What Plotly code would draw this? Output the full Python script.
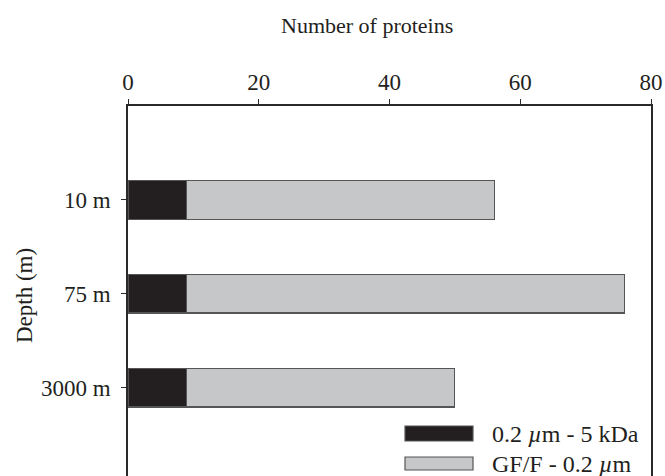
import plotly.graph_objects as go

depths = ["10 m", "75 m", "3000 m"]
small_fraction = [9, 9, 9]          # 0.2 µm - 5 kDa
large_fraction = [47, 67, 41]       # GF/F - 0.2 µm (stacked on top)
series_names = ["0.2 <i>µ</i>m - 5 kDa", "GF/F - 0.2 <i>µ</i>m"]
x_ticks = [0, 20, 40, 60, 80]
x_title = "Number of proteins"
y_title = "Depth (m)"

FONT = "Liberation Serif"
BLACK = "#231f20"
GRAY = "#c6c7c8"
EDGE = "#555555"
AXIS = "#2a2a2a"

W, H = 665, 476
L, T, R_EDGE, B_EDGE = 128, 106, 651, 476
PW, PH = R_EDGE - L, B_EDGE - T


def px(xs):   # reference screen x -> paper x
    return (xs - L) / PW


def py(ys):   # reference screen y -> paper y
    return (B_EDGE - ys) / PH


fig = go.Figure()
fig.add_trace(go.Bar(y=depths, x=small_fraction, orientation="h", name=series_names[0],
                     marker=dict(color=BLACK, line=dict(color=EDGE, width=1.2)), width=0.41))
fig.add_trace(go.Bar(y=depths, x=large_fraction, orientation="h", name=series_names[1],
                     marker=dict(color=GRAY, line=dict(color=EDGE, width=1.2)), width=0.41))

fig.update_layout(
    barmode="stack",
    width=W, height=H,
    margin=dict(l=L, r=W - R_EDGE, t=T, b=H - B_EDGE),
    paper_bgcolor="white", plot_bgcolor="white",
    showlegend=False,
    font=dict(family=FONT, size=22, color="#231f20"),
    xaxis=dict(side="top", range=[0, 80], tickvals=x_ticks, ticks="outside", ticklen=5,
               tickcolor=AXIS, showline=True, linecolor=AXIS, linewidth=1.5, showgrid=False,
               zeroline=False, tickfont=dict(size=23), ticklabeloverflow="allow"),
    yaxis=dict(categoryorder="array", categoryarray=depths, autorange=False,
               range=[2.94, -1], ticks="outside", ticklen=5, tickcolor=AXIS,
               showline=True, linecolor=AXIS, linewidth=1.5, mirror=True, showgrid=False,
               zeroline=False, tickfont=dict(size=23), ticklabelstandoff=6),
)

# axis titles as annotations (placed as in the reference)
fig.add_annotation(xref="paper", yref="paper", x=px(367), y=py(25), text=x_title,
                   showarrow=False, xanchor="center", yanchor="middle",
                   font=dict(size=22, family=FONT))
fig.add_annotation(xref="paper", yref="paper", x=px(24), y=py(296), text=y_title,
                   showarrow=False, xanchor="center", yanchor="middle", textangle=-90,
                   font=dict(size=23, family=FONT))

# custom legend (swatches + labels), positions given in reference pixels
legend_rows = [(BLACK, 426, 441, series_names[0]), (GRAY, 457, 470, series_names[1])]
for color, y0, y1, label in legend_rows:
    fig.add_shape(type="rect", xref="paper", yref="paper",
                  x0=px(405), x1=px(473), y0=py(y1), y1=py(y0),
                  fillcolor=color, line=dict(color=EDGE, width=1.2))
    fig.add_annotation(xref="paper", yref="paper", x=px(490), y=py((y0 + y1) / 2),
                       text=label, showarrow=False, xanchor="left", yanchor="middle",
                       font=dict(size=24, family=FONT))

fig.write_html(
    "out.html",
    config={"displayModeBar": False},
    post_script="document.body.style.margin='0';document.body.style.overflow='hidden';",
)
